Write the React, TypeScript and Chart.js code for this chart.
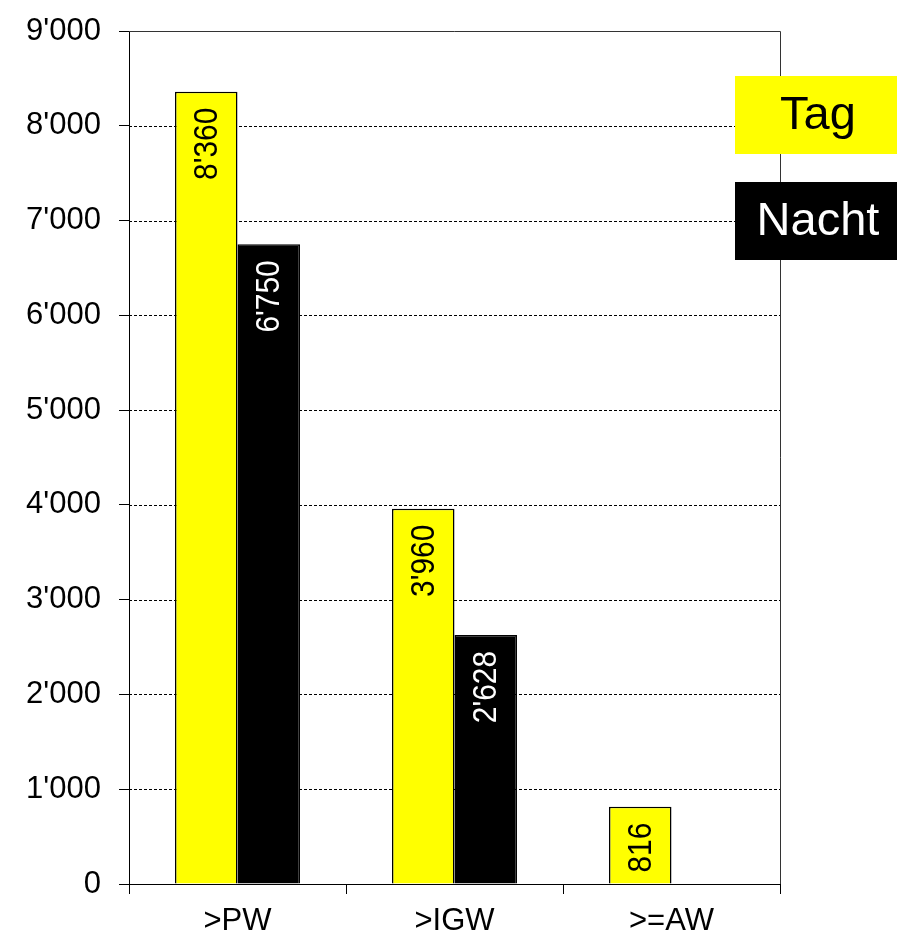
import React, { useEffect, useRef } from "react";
import { Chart, registerables } from "chart.js";

Chart.register(...registerables);

const categories = [">PW", ">IGW", ">=AW"];
const seriesNames = ["Tag", "Nacht"];
const tagValues = [8360, 3960, 816];
const nachtValues: (number | null)[] = [6750, 2628, null];
const yMin = 0;
const yMax = 9000;
const yStep = 1000;

const seriesColors = ["#FFFF00", "#000000"];
const labelColors = ["#000000", "#FFFFFF"];
const FONT = "'Liberation Sans', Arial, Helvetica, sans-serif";

function fmt(v: number): string {
  return String(Math.round(v)).replace(/\B(?=(\d{3})+(?!\d))/g, "'");
}

const gridPlugin = {
  id: "customGrid",
  beforeDatasetsDraw(chart: any) {
    const { ctx, chartArea } = chart;
    const y = chart.scales.y;
    ctx.save();
    ctx.strokeStyle = "#000";
    ctx.lineWidth = 1;
    ctx.setLineDash([3, 2]);
    y.ticks.forEach((t: any) => {
      if (t.value <= yMin || t.value >= yMax) return;
      const py = Math.round(y.getPixelForValue(t.value)) + 0.5;
      ctx.beginPath();
      ctx.moveTo(chartArea.left, py);
      ctx.lineTo(chartArea.right, py);
      ctx.stroke();
    });
    ctx.setLineDash([]);
    ctx.strokeStyle = "#333";
    const top = Math.round(y.getPixelForValue(yMax)) + 0.5;
    const right = Math.round(chartArea.right) + 0.5;
    ctx.beginPath();
    ctx.moveTo(chartArea.left, top);
    ctx.lineTo(right, top);
    ctx.lineTo(right, chartArea.bottom);
    ctx.stroke();
    ctx.restore();
  },
};

const labelPlugin = {
  id: "barLabels",
  afterDatasetsDraw(chart: any) {
    const { ctx } = chart;
    chart.data.datasets.forEach((ds: any, di: number) => {
      const meta = chart.getDatasetMeta(di);
      meta.data.forEach((bar: any, i: number) => {
        const v = ds.data[i];
        if (v === null || v === undefined) return;
        ctx.save();
        ctx.translate(bar.x + 1, bar.y + 16);
        ctx.rotate(-Math.PI / 2);
        ctx.scale(0.88, 1);
        ctx.font = `34px ${FONT}`;
        ctx.fillStyle = labelColors[di];
        ctx.textAlign = "right";
        ctx.textBaseline = "middle";
        ctx.fillText(fmt(v), 0, 0);
        ctx.restore();
      });
    });
  },
};

const legendPlugin = {
  id: "boxLegend",
  afterDraw(chart: any) {
    const { ctx } = chart;
    const boxes = [
      { x: 735, y: 76, w: 162, h: 78 },
      { x: 735, y: 182, w: 162, h: 78 },
    ];
    chart.data.datasets.forEach((ds: any, di: number) => {
      const b = boxes[di];
      ctx.save();
      ctx.fillStyle = seriesColors[di];
      ctx.fillRect(b.x, b.y, b.w, b.h);
      ctx.fillStyle = labelColors[di];
      ctx.font = `47px ${FONT}`;
      ctx.textAlign = "center";
      ctx.textBaseline = "middle";
      ctx.fillText(ds.label, b.x + b.w / 2 + 2, b.y + b.h / 2 + 1);
      ctx.restore();
    });
  },
};

export default function App() {
  const ref = useRef<HTMLCanvasElement>(null);
  useEffect(() => {
    if (!ref.current) return;
    const chart = new Chart(ref.current, {
      type: "bar",
      data: {
        labels: categories,
        datasets: [
          {
            label: seriesNames[0],
            data: tagValues,
            backgroundColor: seriesColors[0],
            borderColor: "#000",
            borderWidth: 1.5,
            categoryPercentage: 0.576,
            barPercentage: 1,
          },
          {
            label: seriesNames[1],
            data: nachtValues,
            backgroundColor: seriesColors[1],
            borderColor: "#000",
            borderWidth: 1.5,
            categoryPercentage: 0.576,
            barPercentage: 1,
          },
        ],
      },
      options: {
        responsive: false,
        animation: false,
        devicePixelRatio: 1,
        layout: { padding: { left: 0, right: 117, top: 31, bottom: 0 } },
        plugins: {
          legend: { display: false },
          tooltip: { enabled: false },
        },
        scales: {
          x: {
            grid: {
              drawOnChartArea: false,
              drawTicks: true,
              tickLength: 10,
              color: "#000",
              tickColor: "#000",
              offset: true,
            },
            border: { display: true, color: "#000", width: 1 },
            ticks: {
              font: { family: FONT, size: 31 },
              color: "#000",
              padding: 9,
              maxRotation: 0,
              autoSkip: false,
            },
            afterFit: (s: any) => {
              s.height = 51;
              s.paddingLeft = 0;
              s.paddingRight = 0;
            },
          },
          y: {
            min: yMin,
            max: yMax,
            grid: {
              drawOnChartArea: false,
              drawTicks: true,
              tickLength: 10,
              color: "#000",
              tickColor: "#000",
            },
            border: { display: true, color: "#000", width: 1 },
            ticks: {
              stepSize: yStep,
              callback: (v: any) => fmt(Number(v)),
              font: { family: FONT, size: 31 },
              color: "#000",
              padding: 18,
            },
            afterFit: (s: any) => {
              s.width = 129;
              s.paddingTop = 0;
              s.paddingBottom = 0;
            },
          },
        },
      },
      plugins: [gridPlugin, labelPlugin, legendPlugin],
    });
    return () => chart.destroy();
  }, []);
  return (
    <div style={{ position: "absolute", left: 0, top: 0, width: 897, height: 935, background: "#fff" }}>
      <canvas ref={ref} width={897} height={935} style={{ display: "block" }} />
    </div>
  );
}
